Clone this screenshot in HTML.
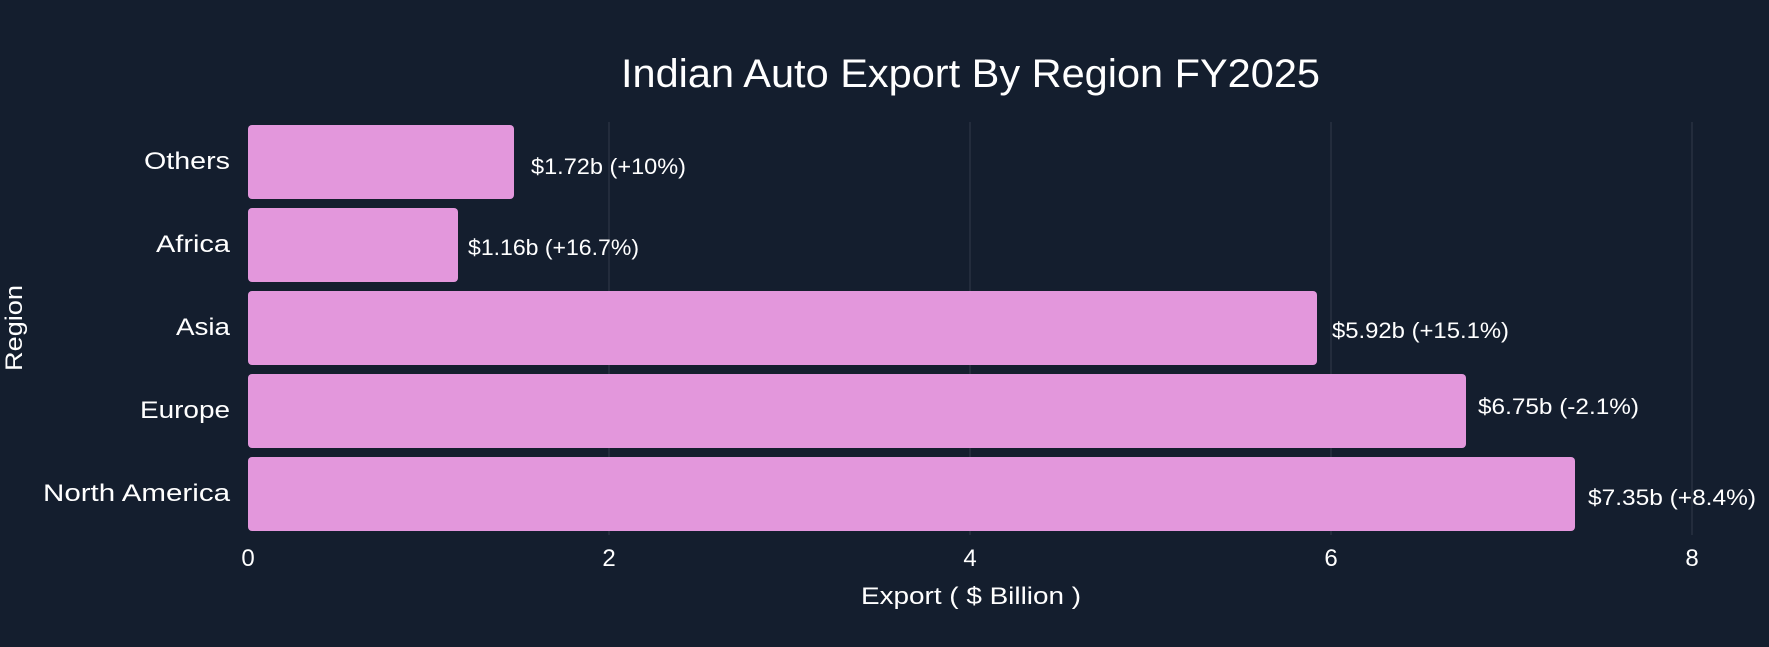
<!DOCTYPE html>
<html><head><meta charset="utf-8"><style>
body{margin:0;background:#141e2e;}
svg{display:block;font-family:"Liberation Sans",sans-serif;}
</style></head><body>
<svg width="1769" height="647" viewBox="0 0 1769 647">
<rect width="1769" height="647" fill="#141e2e"/>
<g stroke="#323b4b" stroke-width="1">
<line x1="609" y1="122" x2="609" y2="535"/>
<line x1="970" y1="122" x2="970" y2="535"/>
<line x1="1331" y1="122" x2="1331" y2="535"/>
<line x1="1692" y1="122" x2="1692" y2="535"/>
</g>
<g fill="#e397dc">
<rect x="248" y="125" width="266" height="74" rx="4"/>
<rect x="248" y="208" width="210" height="74" rx="4"/>
<rect x="248" y="291" width="1069" height="74" rx="4"/>
<rect x="248" y="374" width="1218" height="74" rx="4"/>
<rect x="248" y="457" width="1327" height="74" rx="4"/>
</g>
<text x="621" y="87" textLength="699" lengthAdjust="spacingAndGlyphs" fill="#fff" font-size="40">Indian Auto Export By Region FY2025</text>
<g fill="#fff" font-size="24">
<text x="144" y="169" textLength="86" lengthAdjust="spacingAndGlyphs">Others</text>
<text x="156" y="252" textLength="74" lengthAdjust="spacingAndGlyphs">Africa</text>
<text x="176" y="335" textLength="54" lengthAdjust="spacingAndGlyphs">Asia</text>
<text x="140" y="418" textLength="90" lengthAdjust="spacingAndGlyphs">Europe</text>
<text x="43" y="501" textLength="187" lengthAdjust="spacingAndGlyphs">North America</text>
</g>
<g fill="#fff" font-size="22">
<text x="531" y="174" textLength="155" lengthAdjust="spacingAndGlyphs">$1.72b (+10%)</text>
<text x="468" y="255" textLength="171" lengthAdjust="spacingAndGlyphs">$1.16b (+16.7%)</text>
<text x="1332" y="338" textLength="177" lengthAdjust="spacingAndGlyphs">$5.92b (+15.1%)</text>
<text x="1478" y="414" textLength="161" lengthAdjust="spacingAndGlyphs">$6.75b (-2.1%)</text>
<text x="1588" y="505" textLength="168" lengthAdjust="spacingAndGlyphs">$7.35b (+8.4%)</text>
</g>
<g fill="#fff" font-size="24" text-anchor="middle">
<text x="248" y="566">0</text>
<text x="609" y="566">2</text>
<text x="970" y="566">4</text>
<text x="1331" y="566">6</text>
<text x="1692" y="566">8</text>
</g>
<text x="861" y="604" textLength="220" lengthAdjust="spacingAndGlyphs" fill="#fff" font-size="24">Export ( $ Billion )</text>
<text transform="translate(22,328) rotate(-90)" x="-43" textLength="86" lengthAdjust="spacingAndGlyphs" fill="#fff" font-size="24">Region</text>
</svg>
</body></html>
